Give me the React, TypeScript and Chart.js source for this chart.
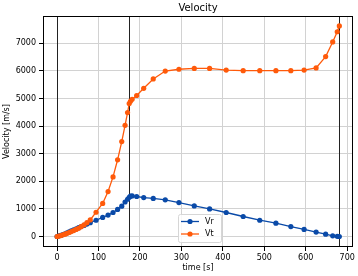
import React, { useEffect, useRef } from "react";
import { Chart, registerables } from "chart.js";

Chart.register(...registerables);

const timeS = [0, 4, 9, 14, 19, 24, 29, 34, 40, 46, 52, 58, 65, 72, 80, 94, 110, 123, 135, 146, 156, 164, 170, 174, 177, 181, 192, 209, 232, 261, 294, 331, 368, 408, 449, 489, 528, 564, 596, 625, 648, 665, 676, 681];
const vt = [0, 15, 35, 60, 85, 115, 145, 180, 215, 255, 300, 355, 420, 500, 600, 880, 1200, 1630, 2160, 2780, 3440, 4030, 4490, 4820, 4900, 4970, 5110, 5370, 5710, 5995, 6060, 6090, 6090, 6030, 6010, 6010, 6010, 6010, 6030, 6110, 6520, 7050, 7420, 7630];
const vr = [0, 20, 40, 70, 100, 135, 170, 205, 240, 280, 320, 360, 400, 450, 500, 590, 690, 775, 870, 980, 1100, 1250, 1350, 1420, 1460, 1470, 1450, 1410, 1380, 1330, 1230, 1110, 1000, 870, 725, 590, 485, 360, 255, 160, 85, 25, 5, 0];
const eventTimes = [0, 174, 681];
const xTicks = [0, 100, 200, 300, 400, 500, 600, 700];
const yTicks = [0, 1000, 2000, 3000, 4000, 5000, 6000, 7000];
const seriesNames = ["Vr", "Vt"];
const titleText = "Velocity";
const xTitle = "time [s]";
const yTitle = "Velocity [m/s]";

const BLUE = "#0a4aa8";
const ORANGE = "#ff5a0a";
const FONT = "DejaVu Sans";

export default function App() {
  const ref = useRef<HTMLCanvasElement>(null);
  useEffect(() => {
    const canvas = ref.current!;
    const deco = {
      id: "deco",
      beforeDatasetsDraw(chart: any) {
        const { ctx, chartArea } = chart;
        const xs = chart.scales.x;
        ctx.save();
        ctx.strokeStyle = "#222";
        ctx.lineWidth = 1;
        for (const t of eventTimes) {
          const px = Math.round(xs.getPixelForValue(t)) + 0.5;
          ctx.beginPath();
          ctx.moveTo(px, chartArea.top);
          ctx.lineTo(px, chartArea.bottom);
          ctx.stroke();
        }
        ctx.restore();
      },
      afterDraw(chart: any) {
        const { ctx, chartArea } = chart;
        ctx.save();
        ctx.strokeStyle = "#000";
        ctx.lineWidth = 1;
        ctx.strokeRect(chartArea.left + 0.5, chartArea.top + 0.5, chartArea.right - chartArea.left - 1, chartArea.bottom - chartArea.top - 1);
        const cx = (chartArea.left + chartArea.right) / 2;
        ctx.fillStyle = "#000";
        ctx.font = `10px "${FONT}"`;
        ctx.textAlign = "center";
        ctx.textBaseline = "alphabetic";
        ctx.fillText(titleText, cx, 10.5);
        ctx.font = `8px "${FONT}"`;
        ctx.fillText(xTitle, cx, 270);
        ctx.save();
        ctx.translate(8.5, (chartArea.top + chartArea.bottom) / 2);
        ctx.rotate(-Math.PI / 2);
        ctx.fillText(yTitle, 0, 0);
        ctx.restore();
        const lx = 178, ly = 214, lw = 43, lh = 28;
        ctx.fillStyle = "rgba(255,255,255,0.85)";
        ctx.strokeStyle = "#d6d6d6";
        ctx.beginPath();
        ctx.roundRect(lx + 0.5, ly + 0.5, lw, lh, 2);
        ctx.fill();
        ctx.stroke();
        const colors = [BLUE, ORANGE];
        seriesNames.forEach((name, i) => {
          const y = ly + 7.5 + i * 12.5;
          ctx.strokeStyle = colors[i];
          ctx.lineWidth = 1.3;
          ctx.beginPath();
          ctx.moveTo(181, y);
          ctx.lineTo(199, y);
          ctx.stroke();
          ctx.fillStyle = colors[i];
          ctx.beginPath();
          ctx.arc(190, y, 2.6, 0, Math.PI * 2);
          ctx.fill();
          ctx.fillStyle = "#000";
          ctx.font = `8px "${FONT}"`;
          ctx.textAlign = "left";
          ctx.textBaseline = "middle";
          ctx.fillText(name, 205, y);
        });
        ctx.restore();
      },
    };
    const tickFont = { family: FONT, size: 8 };
    const chart = new Chart(canvas, {
      type: "line",
      data: {
        datasets: [
          {
            label: seriesNames[0],
            data: timeS.map((t, i) => ({ x: t, y: vr[i] })),
            borderColor: BLUE,
            backgroundColor: BLUE,
            borderWidth: 1.3,
            pointRadius: 2.6,
            pointBorderWidth: 0,
            order: 2,
          },
          {
            label: seriesNames[1],
            data: timeS.map((t, i) => ({ x: t, y: vt[i] })),
            borderColor: ORANGE,
            backgroundColor: ORANGE,
            borderWidth: 1.3,
            pointRadius: 2.6,
            pointBorderWidth: 0,
            order: 1,
          },
        ],
      },
      options: {
        responsive: false,
        animation: false,
        layout: { padding: { left: 0, right: 5, top: 16, bottom: 0 } },
        plugins: { legend: { display: false }, title: { display: false }, tooltip: { enabled: false } },
        scales: {
          x: {
            type: "linear",
            min: -34,
            max: 714,
            afterBuildTicks: (s: any) => { s.ticks = xTicks.map((v) => ({ value: v })); },
            afterFit: (s: any) => { s.height = 29; },
            border: { display: false },
            grid: { color: "#d2d2d2", lineWidth: 1, tickColor: "#000", tickLength: 4 },
            ticks: { color: "#000", font: tickFont, padding: 2, maxRotation: 0, autoSkip: false, callback: (v: any) => String(v) },
          },
          y: {
            type: "linear",
            min: -380,
            max: 7990,
            afterBuildTicks: (s: any) => { s.ticks = yTicks.map((v) => ({ value: v })); },
            afterFit: (s: any) => { s.width = 43; },
            border: { display: false },
            grid: { color: "#d2d2d2", lineWidth: 1, tickColor: "#000", tickLength: 4 },
            ticks: { color: "#000", font: tickFont, padding: 3, autoSkip: false, callback: (v: any) => String(v) },
          },
        },
      },
      plugins: [deco],
    });
    return () => chart.destroy();
  }, []);
  return (
    <div style={{ position: "fixed", left: 0, top: 0, width: 358, height: 276, background: "#fff" }}>
      <canvas ref={ref} width={358} height={276} />
    </div>
  );
}
